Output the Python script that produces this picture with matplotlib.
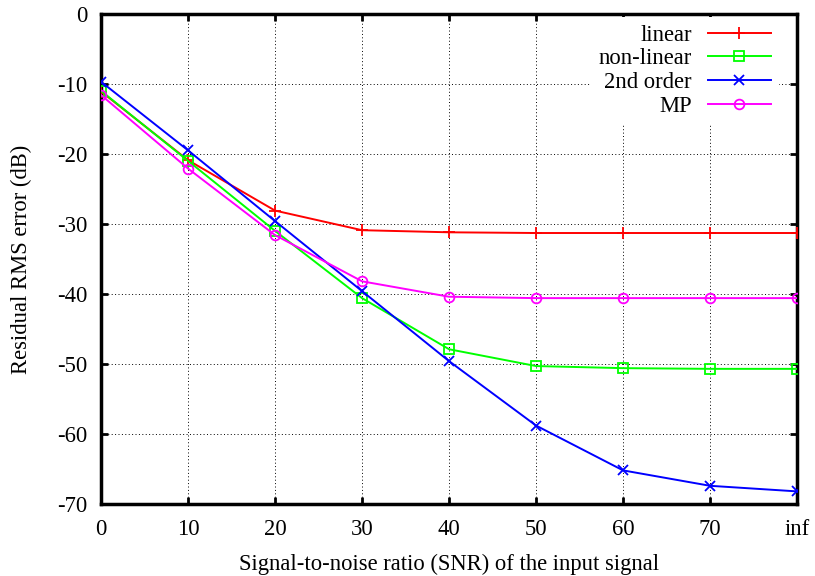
import matplotlib.pyplot as plt

plt.rcParams["font.family"] = ["Liberation Serif", "DejaVu Serif"]
plt.rcParams["axes.unicode_minus"] = False

snr_labels = ["0", "10", "20", "30", "40", "50", "60", "70", "inf"]
snr_pos = [0, 10, 20, 30, 40, 50, 60, 70, 80]

linear = [-11.1, -20.9, -28.1, -30.9, -31.2, -31.3, -31.3, -31.3, -31.3]
nonlinear = [-11.0, -21.0, -31.0, -40.6, -47.9, -50.3, -50.6, -50.7, -50.7]
second_order = [-9.7, -19.5, -29.6, -39.6, -49.6, -58.8, -65.2, -67.4, -68.2]
mp = [-11.6, -22.1, -31.6, -38.2, -40.4, -40.6, -40.6, -40.6, -40.6]

fig = plt.figure(figsize=(8.15, 5.76), dpi=100)
ax = fig.add_axes([0.124, 0.125, 0.854, 0.851])

lw = 1.4
ax.plot(snr_pos, linear, color="#ff0000", lw=lw, marker="+", ms=8, mew=1.3, label="linear", zorder=3)
ax.plot(snr_pos, nonlinear, color="#00ff00", lw=lw, marker="s", ms=6.5, mew=1.3, mfc="none", label="non-linear", zorder=3)
ax.plot(snr_pos, second_order, color="#0000ff", lw=lw, marker="x", ms=7, mew=1.3, label="2nd order", zorder=3)
ax.plot(snr_pos, mp, color="#ff00ff", lw=lw, marker="o", ms=7, mew=1.3, mfc="none", label="MP", zorder=3)

ax.set_xlim(0, 80)
ax.set_ylim(-70, 0)
ax.set_xticks(snr_pos)
ax.set_xticklabels(snr_labels)
ax.set_yticks(range(-70, 1, 10))
ax.tick_params(direction="in", length=5, width=2, labelsize=16.3, top=True, right=True)
ax.tick_params(axis="x", pad=11)
ax.tick_params(axis="y", pad=10)

ax.grid(color="black", linestyle=(0, (1, 2.5)), linewidth=0.7, zorder=0)
for s in ax.spines.values():
    s.set_linewidth(2.5)

ax.set_xlabel("Signal-to-noise ratio (SNR) of the input signal", fontsize=16.3, labelpad=10)
ax.set_ylabel("Residual RMS error (dB)", fontsize=16.3, labelpad=18)

leg = ax.legend(loc="upper right", bbox_to_anchor=(0.974, 0.994), borderaxespad=0,
                markerfirst=False, fontsize=16.3, frameon=True,
                handlelength=2.8, handletextpad=0.7, labelspacing=0.12,
                borderpad=0.35, fancybox=False, framealpha=1)
leg.get_frame().set_edgecolor("none")
leg.get_frame().set_facecolor("white")
leg.set_zorder(2)

fig.savefig("out.png", dpi=100)
